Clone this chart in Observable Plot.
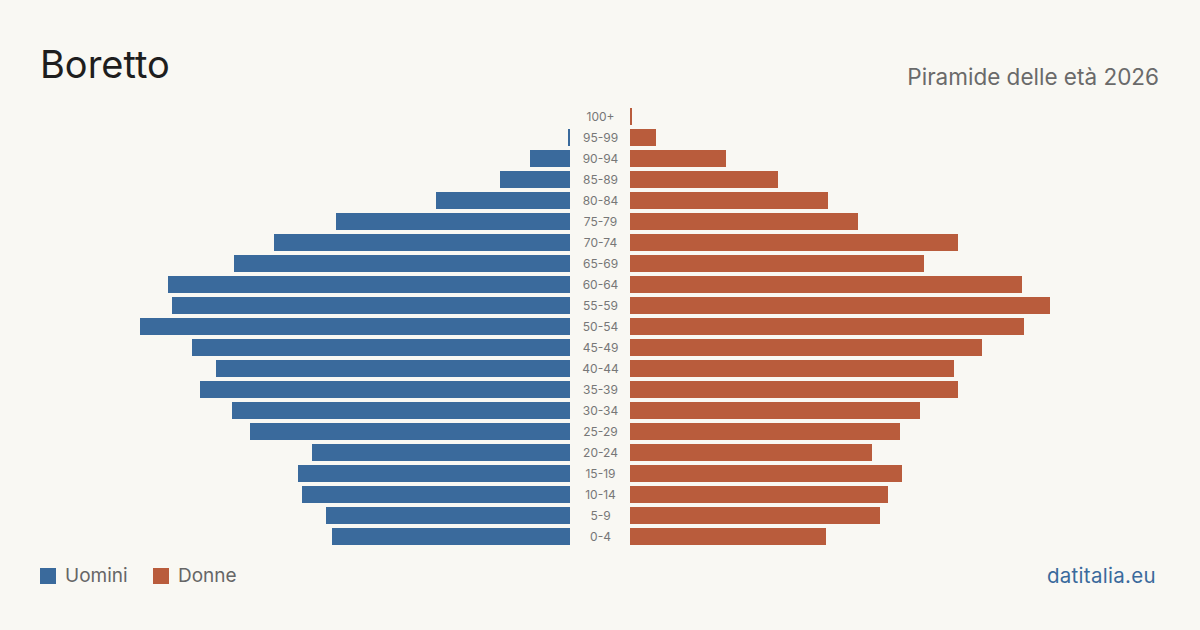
<!DOCTYPE html>
<html>
<head>
<meta charset="utf-8">
<script src="https://cdn.jsdelivr.net/npm/d3@7"></script>
<script src="https://cdn.jsdelivr.net/npm/@observablehq/plot@0.6"></script>
<style>
  html, body { margin: 0; padding: 0; background: #f9f8f3; }
  #wrap { position: relative; width: 1200px; height: 630px; background: #f9f8f3; font-family: Inter, "Noto Sans", sans-serif; overflow: hidden; }
  .abs { position: absolute; }
  #title { left: 40px; top: 45px; font-size: 38px; color: #1e1e1e; line-height: 1; }
  #subtitle { right: 41px; top: 66px; font-size: 22.5px; color: #6a6a6a; line-height: 1; }
  #left { left: 0; top: 95px; }
  #right { left: 570px; top: 95px; }
  .leg { top: 566px; font-size: 19px; color: #666; line-height: 1; display: flex; align-items: center; }
  .sw { width: 16px; height: 16px; display: inline-block; margin-right: 9px; }
  #brand { right: 44px; top: 566px; font-size: 20.5px; color: #3a6a9c; line-height: 1; letter-spacing: 0.3px; }
</style>
</head>
<body>
<div id="wrap">
  <div id="title" class="abs">Boretto</div>
  <div id="subtitle" class="abs">Piramide delle età 2026</div>
  <div id="left" class="abs"></div>
  <div id="right" class="abs"></div>
  <div class="abs leg" style="left:40px"><span class="sw" style="background:#3a6a9c"></span>Uomini</div>
  <div class="abs leg" style="left:153px"><span class="sw" style="background:#b95c3c"></span>Donne</div>
  <div id="brand" class="abs">datitalia.eu</div>
</div>
<script>
const ages = ["100+","95-99","90-94","85-89","80-84","75-79","70-74","65-69","60-64","55-59","50-54","45-49","40-44","35-39","30-34","25-29","20-24","15-19","10-14","5-9","0-4"];
const men =   [0, 1, 20, 35, 67, 117, 148, 168, 201, 199, 215, 189, 177, 185, 169, 160, 129, 136, 134, 122, 119];
const women = [1, 13, 48, 74, 99, 114, 164, 147, 196, 210, 197, 176, 162, 164, 145, 135, 121, 136, 129, 125, 98];
const colors = { men: "#3a6a9c", women: "#b95c3c" };

const menData = ages.map((a, i) => ({ age: a, value: men[i] }));
const womenData = ages.map((a, i) => ({ age: a, value: women[i] }));
const maxX = 285;

const yScale = { domain: ages, paddingInner: 0.19, paddingOuter: 0.095, axis: null };
const common = { height: 462, marginTop: 11, marginBottom: 10, style: { background: "transparent", overflow: "visible" } };

const left = Plot.plot({
  ...common,
  width: 570, marginLeft: 0, marginRight: 0,
  x: { domain: [0, maxX], reverse: true, axis: null },
  y: yScale,
  marks: [
    Plot.barX(menData, { x: "value", y: "age", fill: colors.men })
  ]
});
document.getElementById("left").appendChild(left);

const right = Plot.plot({
  ...common,
  width: 630, marginLeft: 60, marginRight: 0,
  x: { domain: [0, maxX], axis: null },
  y: yScale,
  marks: [
    Plot.barX(womenData, { x: "value", y: "age", fill: colors.women }),
    Plot.text(ages, { x: 0, y: d => d, text: d => d, dx: -30, textAnchor: "middle", fontSize: 12, fill: "#777", fontFamily: "Inter, sans-serif" })
  ]
});
document.getElementById("right").appendChild(right);
</script>
</body>
</html>
